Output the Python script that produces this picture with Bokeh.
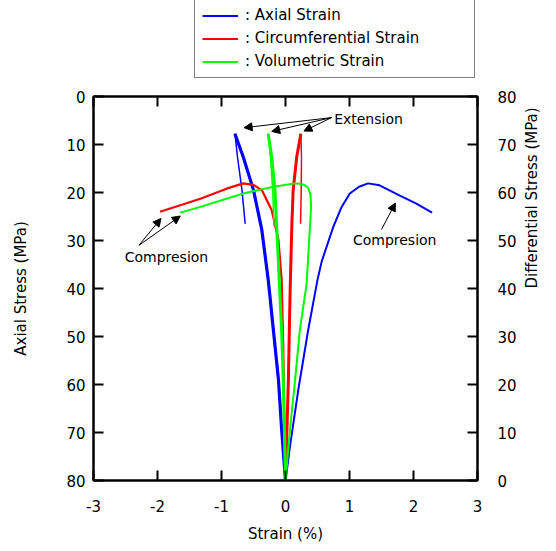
import math
from bokeh.plotting import figure
from bokeh.layouts import column
from bokeh.models import (Range1d, LinearAxis, FixedTicker, Legend, LegendItem,
                          Arrow, NormalHead, Label)
from bokeh.embed import file_html
from bokeh.resources import INLINE

# ---------------- data ----------------
x_ticks = [-3, -2, -1, 0, 1, 2, 3]
axial_ticks = [0, 10, 20, 30, 40, 50, 60, 70, 80]
diff_ticks = [0, 10, 20, 30, 40, 50, 60, 70, 80]

# differential stress (MPa) vs strain (%)
blue_comp_strain = [0.0, 0.07, 0.20, 0.355, 0.50, 0.565, 0.745, 0.87, 1.005, 1.15, 1.29, 1.47, 1.78, 2.045, 2.29]
blue_comp_stress = [0.0, 7.1, 18.9, 31.4, 41.8, 45.6, 52.8, 56.8, 59.8, 61.2, 61.9, 61.5, 59.4, 57.7, 55.8]

blue_ext_load_strain = [0.0, -0.06, -0.11, -0.19, -0.237, -0.27, -0.37, -0.50, -0.66, -0.79]
blue_ext_load_stress = [0.0, 10.6, 21.0, 31.4, 37.6, 41.8, 52.2, 60.5, 67.4, 72.25]
blue_ext_unload_strain = [-0.79, -0.75, -0.68, -0.63]
blue_ext_unload_stress = [72.25, 67.4, 60.5, 53.5]

red_comp_strain = [0.0, -0.02, -0.035, -0.06, -0.11, -0.215, -0.37, -0.50, -0.66, -0.92, -1.33, -1.96]
red_comp_stress = [0.0, 14.1, 27.9, 41.8, 50.1, 56.3, 60.5, 61.6, 61.9, 60.8, 58.7, 56.0]

red_ext_load_strain = [0.0, 0.045, 0.06, 0.075, 0.10, 0.12, 0.175, 0.24]
red_ext_load_stress = [0.0, 21.0, 31.4, 41.0, 53.6, 60.5, 67.4, 72.25]
red_ext_unload_strain = [0.24, 0.25, 0.245, 0.235]
red_ext_unload_stress = [72.25, 67.4, 60.0, 53.5]

green_comp_strain = [0.0, 0.07, 0.15, 0.225, 0.33, 0.37, 0.40, 0.39, 0.355, 0.29, 0.225, 0.15, -0.19, -0.66, -1.33, -1.645]
green_comp_stress = [0.0, 10.6, 21.0, 31.4, 41.0, 50.1, 57.0, 59.5, 61.0, 61.6, 61.8, 61.9, 61.2, 59.8, 57.0, 55.8]

green_ext_load_strain = [0.0, -0.035, -0.06, -0.095, -0.14, -0.165, -0.215, -0.27]
green_ext_load_stress = [0.0, 21.0, 31.0, 41.0, 53.5, 60.5, 67.4, 72.25]
green_ext_unload_strain = [-0.27, -0.235, -0.2, -0.18]
green_ext_unload_stress = [72.25, 67.4, 60.5, 53.0]

legend_labels = [": Axial Strain", ": Circumferential Strain", ": Volumetric Strain"]

FONT = "DejaVu Sans"
BLUE, RED, GREEN = "#0000FF", "#FF0000", "#00FF00"

# ---------------- main figure ----------------
p = figure(width=552, height=461, output_backend="svg", toolbar_location=None,
           x_range=Range1d(-3, 3), y_range=Range1d(80, 0),
           min_border_left=93, min_border_right=74, min_border_top=12, min_border_bottom=64)
p.extra_y_ranges = {"diff": Range1d(0, 80)}
p.grid.visible = False
p.outline_line_color = "black"
p.outline_line_width = 2
p.background_fill_color = "white"
p.border_fill_color = "white"


def style(ax):
    ax.axis_line_width = 2
    ax.axis_line_color = "black"
    ax.major_tick_in = 10
    ax.major_tick_out = 0
    ax.major_tick_line_width = 2
    ax.major_tick_line_color = "black"
    ax.minor_tick_line_color = None
    ax.major_label_text_font = FONT
    ax.major_label_text_font_size = "15px"
    ax.major_label_text_color = "black"
    ax.axis_label_text_font = FONT
    ax.axis_label_text_font_size = "15px"
    ax.axis_label_text_font_style = "normal"
    ax.axis_label_text_color = "black"


xa = p.xaxis[0]
xa.ticker = FixedTicker(ticks=x_ticks)
xa.axis_label = "Strain (%)"
style(xa)
xa.major_label_overrides = {t: str(t) for t in x_ticks}
xa.major_label_standoff = 19
xa.axis_label_standoff = 10

ya = p.yaxis[0]
ya.ticker = FixedTicker(ticks=axial_ticks)
ya.axis_label = "Axial Stress (MPa)"
style(ya)
ya.major_label_standoff = 8
ya.axis_label_standoff = 33

ra = LinearAxis(y_range_name="diff", ticker=FixedTicker(ticks=diff_ticks),
                axis_label="Differential Stress (MPa)")
style(ra)
ra.major_label_standoff = 20
ra.axis_label_standoff = 12
ra.axis_label_orientation = math.pi / 2
p.add_layout(ra, "right")

ta = LinearAxis(ticker=FixedTicker(ticks=x_ticks))
style(ta)
ta.major_label_overrides = {t: " " for t in x_ticks}
ta.major_label_text_font_size = "6px"
ta.major_label_standoff = 0
p.add_layout(ta, "above")

# ---------------- curves ----------------
p.line(blue_comp_strain, blue_comp_stress, y_range_name="diff", color=BLUE, line_width=2)
p.line(blue_ext_load_strain, blue_ext_load_stress, y_range_name="diff", color=BLUE, line_width=3.2)
p.line(blue_ext_unload_strain, blue_ext_unload_stress, y_range_name="diff", color=BLUE, line_width=1.5)

p.line(red_comp_strain, red_comp_stress, y_range_name="diff", color=RED, line_width=2.2)
p.line(red_ext_load_strain, red_ext_load_stress, y_range_name="diff", color=RED, line_width=3)
p.line(red_ext_unload_strain, red_ext_unload_stress, y_range_name="diff", color=RED, line_width=1.5)

p.line(green_comp_strain, green_comp_stress, y_range_name="diff", color=GREEN, line_width=2)
p.line(green_ext_load_strain, green_ext_load_stress, y_range_name="diff", color=GREEN, line_width=3)
p.line(green_ext_unload_strain, green_ext_unload_stress, y_range_name="diff", color=GREEN, line_width=1.5)

# ---------------- annotations ----------------
def arrow(x0, y0, x1, y1):
    p.add_layout(Arrow(end=NormalHead(size=8, fill_color="black", line_color="black", line_width=1),
                       x_start=x0, y_start=y0, x_end=x1, y_end=y1, y_range_name="diff",
                       line_color="black", line_width=1))

ext_start = (0.72, 75.6)
for tx, ty in [(-0.647, 73.5), (-0.215, 72.73), (0.288, 72.8)]:
    arrow(ext_start[0], ext_start[1], tx, ty)
p.add_layout(Label(x=0.76, y=75.4, y_range_name="diff", text="Extension", text_font=FONT,
                   text_font_size="14px", text_align="left", text_baseline="middle", text_color="black"))

cl_start = (-2.29, 49.0)
for tx, ty in [(-1.945, 54.6), (-1.644, 55.1)]:
    arrow(cl_start[0], cl_start[1], tx, ty)
p.add_layout(Label(x=-1.86, y=46.5, y_range_name="diff", text="Compresion", text_font=FONT,
                   text_font_size="14px", text_align="center", text_baseline="middle", text_color="black"))

arrow(1.50, 52.3, 1.717, 57.8)
p.add_layout(Label(x=1.706, y=50.2, y_range_name="diff", text="Compresion", text_font=FONT,
                   text_font_size="14px", text_align="center", text_baseline="middle", text_color="black"))

# ---------------- legend (separate strip above the plot) ----------------
# key renderers draw the same series, but this strip's ranges keep them out of view;
# they only supply the legend swatches
lf = figure(width=552, height=84, output_backend="svg", toolbar_location=None, title=None,
            x_axis_type=None, y_axis_type=None, x_range=Range1d(50, 51), y_range=Range1d(500, 501),
            min_border=0, min_border_left=0, min_border_right=0, min_border_top=0, min_border_bottom=0)
lf.outline_line_color = None
lf.grid.visible = False
lf.background_fill_color = "white"
lf.border_fill_color = "white"
kb = lf.line(blue_comp_strain, blue_comp_stress, color=BLUE, line_width=2)
kr = lf.line(red_comp_strain, red_comp_stress, color=RED, line_width=2)
kg = lf.line(green_comp_strain, green_comp_stress, color=GREEN, line_width=2)

legend = Legend(items=[LegendItem(label=legend_labels[0], renderers=[kb]),
                       LegendItem(label=legend_labels[1], renderers=[kr]),
                       LegendItem(label=legend_labels[2], renderers=[kg])],
                location=(101, 6), orientation="vertical",
                label_text_font=FONT, label_text_font_size="15px", label_text_color="black",
                glyph_width=36, glyph_height=17, label_height=17, label_width=222,
                label_standoff=7, spacing=5, padding=7, margin=0,
                border_line_color="black", border_line_width=1,
                background_fill_color="white", background_fill_alpha=1.0)
lf.add_layout(legend, "center")

layout = column(lf, p, spacing=0)
open("out.html", "w").write(file_html(layout, INLINE))
